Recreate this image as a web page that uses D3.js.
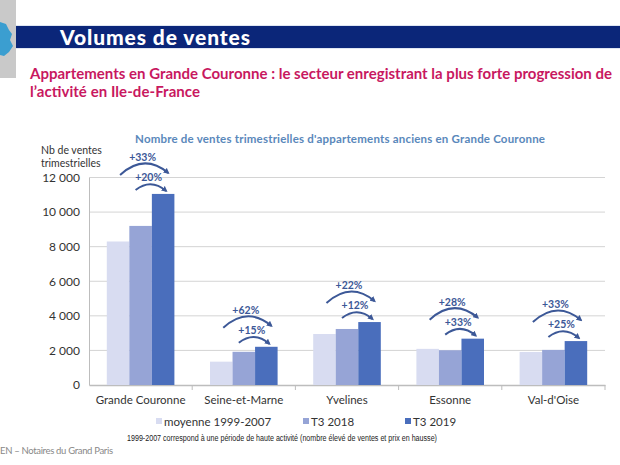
<!DOCTYPE html>
<html><head><meta charset="utf-8">
<script src="https://cdn.jsdelivr.net/npm/d3@7"></script>
<style>body{margin:0;background:#fff;}svg{display:block;}</style>
</head><body>
<svg id="c" width="620" height="465"></svg>
<script>
const categories = ["Grande Couronne","Seine-et-Marne","Yvelines","Essonne","Val-d'Oise"];
const seriesNames = ["moyenne 1999-2007","T3 2018","T3 2019"];
const moyenne = [8300, 1350, 2950, 2090, 1910];
const t32018 = [9200, 1920, 3240, 2010, 2030];
const t32019 = [11050, 2210, 3640, 2680, 2540];
const pctVsMoyenne = ["+33%","+62%","+22%","+28%","+33%"];
const pctVs2018 = ["+20%","+15%","+12%","+33%","+25%"];
const yTicks = [0,2000,4000,6000,8000,10000,12000];
const tickLabels = ["0","2 000","4 000","6 000","8 000","10 000","12 000"];

const colors = ["#d8dcf1","#96a4d6","#4a6ebc"];
const arrowColor = "#3c5897";
const font = "Lato, 'Open Sans', sans-serif";

const svg = d3.select("#c");

// header
svg.append("rect").attr("x",0).attr("y",0).attr("width",16).attr("height",78).attr("fill","#c9c9c9");
svg.append("rect").attr("x",16).attr("y",25).attr("width",604).attr("height",24).attr("fill","#dfe6f2");
svg.append("rect").attr("x",16).attr("y",26).attr("width",604).attr("height",22).attr("fill","#0b2679");
svg.append("path").attr("d","M0,22 L6,24 L9,30 L12,34 L10,40 L13,46 L9,52 L4,56 L0,55 Z").attr("fill","#3b9ed0");
svg.append("text").attr("x",60).attr("y",45).attr("fill","#fff").attr("font-family",font)
  .attr("font-weight","900").attr("font-size",21).attr("textLength",190).text("Volumes de ventes");
svg.append("text").attr("x",30).attr("y",79).attr("fill","#c8185f").attr("font-family",font)
  .attr("font-weight","bold").attr("font-size",15).attr("textLength",582)
  .text("Appartements en Grande Couronne : le secteur enregistrant la plus forte progression de");
svg.append("text").attr("x",30).attr("y",97).attr("fill","#c8185f").attr("font-family",font)
  .attr("font-weight","bold").attr("font-size",15).attr("textLength",170)
  .text("l\u2019activité en Ile-de-France");

// chart
const x0 = d3.scaleBand().domain(categories).range([89,605]).paddingInner(0).paddingOuter(0);
const x1 = d3.scaleBand().domain(seriesNames).range([0,x0.bandwidth()]).paddingInner(0).paddingOuter(0.79);
const y = d3.scaleLinear().domain([0,12000]).range([385,177.5]);

svg.append("text").attr("x",340).attr("y",143).attr("text-anchor","middle").attr("fill","#5a88bb")
  .attr("font-family",font).attr("font-weight","bold").attr("font-size",11.5).attr("textLength",410)
  .text("Nombre de ventes trimestrielles d'appartements anciens en Grande Couronne");
svg.append("text").attr("x",41).attr("y",154).attr("fill","#333").attr("font-family",font).attr("font-size",10.5).text("Nb de ventes");
svg.append("text").attr("x",41).attr("y",167).attr("fill","#333").attr("font-family",font).attr("font-size",10.5).text("trimestrielles");

// gridlines
svg.append("g").selectAll("line").data(yTicks.filter(d=>d>0)).join("line")
  .attr("x1",89).attr("x2",605).attr("y1",d=>y(d)).attr("y2",d=>y(d)).attr("stroke","#d4d4d4").attr("stroke-width",1);

const yAxis = svg.append("g").attr("transform","translate(89,0)")
  .call(d3.axisLeft(y).tickValues(yTicks).tickFormat((d,i)=>tickLabels[i]).tickSize(0).tickPadding(9));
yAxis.select(".domain").attr("stroke","#bdbdbd");
yAxis.selectAll("text").attr("font-family",font).attr("font-size",12).attr("fill","#333");

const xAxis = svg.append("g").attr("transform","translate(0,385)")
  .call(d3.axisBottom(x0).tickSize(0).tickPadding(11));
xAxis.select(".domain").attr("stroke","#bdbdbd").attr("stroke-width",1.5);
xAxis.selectAll("text").attr("font-family",font).attr("font-size",11.5).attr("fill","#333");
svg.append("g").selectAll("line").data(categories).join("line")
  .attr("x1",(d,i)=>89+(i+1)*x0.bandwidth()).attr("x2",(d,i)=>89+(i+1)*x0.bandwidth())
  .attr("y1",385).attr("y2",390).attr("stroke","#bdbdbd");

const series = [moyenne,t32018,t32019];
const g = svg.append("g");
series.forEach((vals,si)=>{
  g.append("g").selectAll("rect").data(vals).join("rect")
    .attr("x",(d,i)=>x0(categories[i])+x1(seriesNames[si]))
    .attr("width",x1.bandwidth())
    .attr("y",d=>y(d)).attr("height",d=>y(0)-y(d)).attr("fill",colors[si]);
});

// arrows
const defs = svg.append("defs");
defs.append("marker").attr("id","ah").attr("viewBox","0 0 10 10").attr("refX",7).attr("refY",5)
  .attr("markerWidth",3).attr("markerHeight",3).attr("orient","auto")
  .append("path").attr("d","M0,0 L10,5 L0,10 Z").attr("fill",arrowColor);

categories.forEach((c,i)=>{
  const bx = x0(c);
  const cL = bx + x1(seriesNames[0]) + x1.bandwidth()/2;
  const cM = bx + x1(seriesNames[1]) + x1.bandwidth()/2;
  const cD = bx + x1(seriesNames[2]) + x1.bandwidth()/2;
  const top = y(t32019[i]);
  // inner arrow
  const iy = top - 4;
  const ix1 = cM - 5, ix2 = cD + 3;
  svg.append("path").attr("d",`M${ix1},${iy} Q${(ix1+ix2)/2},${iy-12} ${ix2},${iy+1}`)
    .attr("fill","none").attr("stroke",arrowColor).attr("stroke-width",2).attr("marker-end","url(#ah)");
  svg.append("text").attr("x",(bx+x0.bandwidth()/2)+8).attr("y",iy-9).attr("text-anchor","middle")
    .attr("fill",arrowColor).attr("font-family",font).attr("font-weight","bold").attr("font-size",10.5).text(pctVs2018[i]);
  // outer arrow
  const oy = iy - 17;
  const ox1 = cL + 2, ox2 = cD + 5;
  svg.append("path").attr("d",`M${ox1},${oy+2} Q${(ox1+ox2)/2},${oy-20} ${ox2},${oy}`)
    .attr("fill","none").attr("stroke",arrowColor).attr("stroke-width",2).attr("marker-end","url(#ah)");
  svg.append("text").attr("x",(bx+x0.bandwidth()/2)+2).attr("y",oy-12).attr("text-anchor","middle")
    .attr("fill",arrowColor).attr("font-family",font).attr("font-weight","bold").attr("font-size",10.5).text(pctVsMoyenne[i]);
});

// legend
const legX = [156,303,405];
const leg = svg.append("g");
seriesNames.forEach((n,i)=>{
  leg.append("rect").attr("x",legX[i]).attr("y",418).attr("width",6).attr("height",6).attr("fill",colors[i]);
  leg.append("text").attr("x",legX[i]+8).attr("y",425.5).attr("fill","#333").attr("font-family",font).attr("font-size",11.5).text(n);
});

svg.append("text").attr("x",127).attr("y",441).attr("fill","#222").attr("font-family","'Liberation Sans Narrow', 'Liberation Sans', sans-serif")
  .attr("font-size",8.5).attr("textLength",310).attr("lengthAdjust","spacingAndGlyphs")
  .text("1999-2007 correspond à une période de haute activité (nombre élevé de ventes et prix en hausse)");
svg.append("text").attr("x",0).attr("y",454).attr("fill","#888").attr("font-family",font)
  .attr("font-size",9.5).attr("textLength",113).text("EN \u2013 Notaires du Grand Paris");
</script>
</body></html>
